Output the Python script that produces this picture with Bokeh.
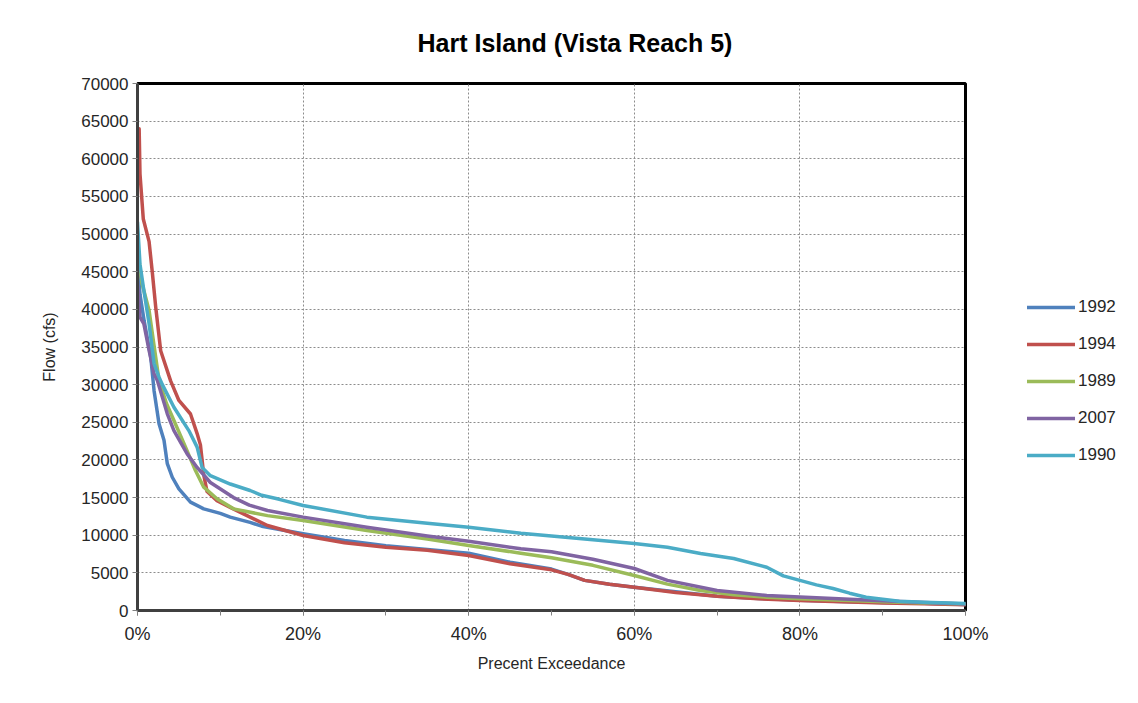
from bokeh.plotting import figure
from bokeh.models import (Range1d, FixedTicker, PrintfTickFormatter, BasicTickFormatter,
                          Legend, LegendItem, Title)
from bokeh.embed import file_html
from bokeh.resources import INLINE

# ---------------- data (percent exceedance, flow cfs) ----------------
series_names = ["1992", "1994", "1989", "2007", "1990"]
series_colors = ["#4F81BD", "#C0504D", "#9BBB59", "#8064A2", "#4BACC6"]

pct_1992 = [0, 0.3, 0.8, 1.3, 1.6, 2.0, 2.6, 3.2, 3.6, 4.2, 5.0, 6.4, 8.0, 10, 11.2, 13.6, 15,
            20, 25, 30, 35, 40, 45, 50, 52, 54, 57, 60, 65, 70, 75, 80, 85, 90, 95, 100]
flow_1992 = [47000, 42000, 38500, 35500, 33650, 29200, 24800, 22600, 19500, 17700, 16160, 14390,
             13500, 12900, 12400, 11700, 11200, 10190, 9300, 8600, 8100, 7600, 6400, 5500, 4800,
             4000, 3500, 3100, 2500, 1900, 1600, 1350, 1200, 1050, 950, 800]

pct_1994 = [0.2, 0.3, 0.7, 1.4, 1.8, 2.2, 2.8, 4.0, 5.0, 6.4, 7.2, 7.6, 8.0, 8.4, 9.6, 11.2, 13.6,
            15.7, 20, 25, 30, 35, 40, 45, 50, 52, 54, 57, 60, 65, 70, 75, 80, 85, 90, 95, 100]
flow_1994 = [64000, 58000, 52000, 49000, 44800, 40300, 34500, 30500, 27900, 26100, 23500, 22000,
             18000, 15800, 14600, 13700, 12400, 11290, 9960, 9000, 8400, 8000, 7300, 6200, 5400,
             4800, 4000, 3500, 3100, 2400, 1900, 1550, 1330, 1150, 1000, 900, 750]

pct_1989 = [0, 0.55, 1.4, 2.2, 2.6, 3.5, 4.4, 5.8, 7.0, 8.0, 9.6, 11.6, 15.7, 20, 27.7, 35, 40,
            46.3, 50, 55, 60, 64, 68, 72, 76, 80, 85, 90, 95, 100]
flow_1989 = [48000, 43400, 39850, 33650, 30550, 27500, 25240, 21700, 18600, 16380, 14840, 13500,
             12600, 11950, 10630, 9500, 8630, 7610, 7000, 6000, 4650, 3500, 2650, 2100, 1770,
             1550, 1350, 1150, 1000, 850]

pct_2007 = [0, 0.3, 0.77, 1.4, 2.0, 2.4, 3.6, 4.4, 6.0, 7.2, 8.8, 11.6, 13.5, 15.7, 20, 27.7,
            35, 40, 46.3, 50, 55, 60, 64, 70, 76, 80, 84, 90, 95, 100]
flow_2007 = [43600, 38960, 38080, 34540, 31440, 30550, 26130, 23900, 20800, 19000, 17000, 15000,
             14000, 13280, 12400, 11070, 9900, 9200, 8190, 7800, 6800, 5580, 4000, 2650, 2000,
             1800, 1590, 1300, 1050, 850]

pct_1990 = [0, 0.3, 0.77, 1.4, 2.0, 2.6, 3.0, 4.4, 6.2, 7.2, 7.8, 8.8, 11.2, 13.6, 15, 17, 20,
            27.7, 35, 40, 46.3, 50, 55, 60, 64, 68, 72, 76, 78, 80, 82, 84, 86, 88, 90, 92, 95, 100]
flow_1990 = [51600, 46000, 42500, 38100, 32800, 31000, 30000, 27000, 23900, 21700, 19000, 17900,
             16800, 15940, 15300, 14800, 13950, 12400, 11600, 11070, 10270, 9900, 9400, 8900,
             8400, 7570, 6900, 5750, 4600, 4000, 3400, 2920, 2300, 1770, 1500, 1240, 1100, 930]

x_major_ticks = [0, 20, 40, 60, 80, 100]
x_minor_ticks = [0, 10, 20, 30, 40, 50, 60, 70, 80, 90, 100]
y_ticks = list(range(0, 70001, 5000))

all_pct = [pct_1992, pct_1994, pct_1989, pct_2007, pct_1990]
all_flow = [flow_1992, flow_1994, flow_1989, flow_2007, flow_1990]

TITLE = "Hart Island (Vista Reach 5)"

# ---------------- figure ----------------
FONT = "Liberation Sans"
TXT = "#262626"

p = figure(output_backend="svg", toolbar_location=None,
           frame_width=828, frame_height=527,
           min_border_left=137, min_border_right=165, min_border_top=83, min_border_bottom=90,
           x_range=Range1d(0, 100), y_range=Range1d(0, 70000))

p.background_fill_color = "white"
p.border_fill_color = "white"
p.outline_line_color = "black"
p.outline_line_width = 3

# spacer between frame and title, then the title itself
p.add_layout(Title(text=" ", text_font_size="9px", text_color="white"), "above")
p.title.text = TITLE
p.title.align = "left"
p.title.offset = 280
p.title.text_font = FONT
p.title.text_font_size = "25px"
p.title.text_font_style = "bold"
p.title.text_color = "black"

# axes
p.xaxis.ticker = FixedTicker(ticks=x_major_ticks, minor_ticks=x_minor_ticks)
p.xaxis.formatter = PrintfTickFormatter(format="%d%%")
p.yaxis.ticker = FixedTicker(ticks=y_ticks)
p.yaxis.formatter = BasicTickFormatter(use_scientific=False)

for ax in (p.xaxis[0], p.yaxis[0]):
    ax.axis_line_color = "#404040"
    ax.axis_line_width = 3
    ax.major_tick_line_color = "#808080"
    ax.minor_tick_line_color = "#808080"
    ax.major_tick_in = 0
    ax.major_tick_out = 5
    ax.minor_tick_in = 0
    ax.minor_tick_out = 5
    ax.major_label_text_font = FONT
    ax.major_label_text_color = TXT
    ax.axis_label_text_font = FONT
    ax.axis_label_text_font_size = "16px"
    ax.axis_label_text_font_style = "normal"
    ax.axis_label_text_color = TXT

p.yaxis.major_label_text_font_size = "17px"
p.xaxis.major_label_text_font_size = "18px"
p.yaxis.minor_tick_line_color = None
p.xaxis.axis_label = "Precent Exceedance"
p.yaxis.axis_label = "Flow (cfs)"
p.xaxis.major_label_standoff = 8
p.xaxis.axis_label_standoff = 8
p.yaxis.major_label_standoff = 4
p.yaxis.axis_label_standoff = 20

# grid
p.xgrid.ticker = FixedTicker(ticks=x_major_ticks)
p.ygrid.ticker = FixedTicker(ticks=y_ticks)
for g in (p.xgrid[0], p.ygrid[0]):
    g.grid_line_color = "#8c8c8c"
    g.grid_line_dash = "2 2"
    g.grid_line_width = 1

# lines
items = []
for name, color, xs, ys in zip(series_names, series_colors, all_pct, all_flow):
    r = p.line(xs, ys, line_color=color, line_width=3.5, line_join="round", line_cap="round")
    items.append(LegendItem(label=name, renderers=[r]))

legend = Legend(items=items, location=(62, 145), orientation="vertical",
                border_line_color=None, background_fill_alpha=0,
                label_text_font=FONT, label_text_font_size="17px", label_text_color=TXT,
                glyph_width=48, glyph_height=20, label_height=20, spacing=17,
                padding=0, margin=0, label_standoff=3)
p.add_layout(legend, "right")

open("out.html", "w").write(file_html(p, INLINE))
